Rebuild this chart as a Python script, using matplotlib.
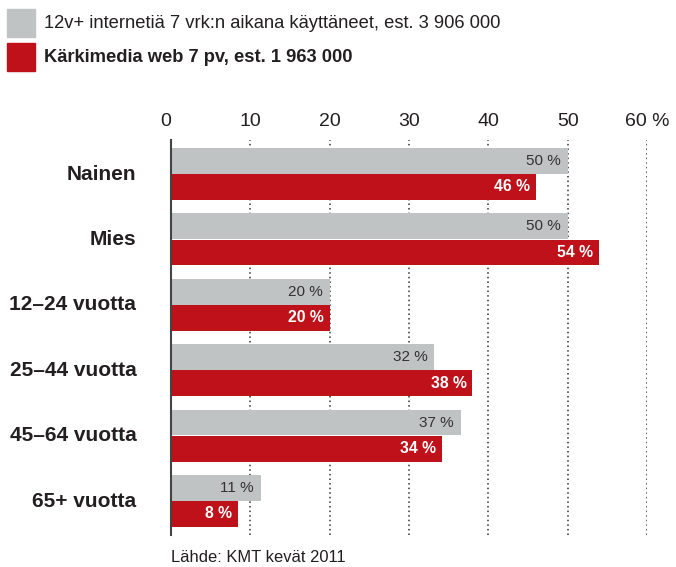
import matplotlib.pyplot as plt
from matplotlib.patches import Rectangle
import numpy as np

plt.rcParams['font.family'] = ['Liberation Sans', 'DejaVu Sans']

# data
groups = ["Nainen", "Mies", "12–24 vuotta", "25–44 vuotta", "45–64 vuotta", "65+ vuotta"]
internet_all = [50, 50, 20, 33.2, 36.5, 11.3]     # bar lengths
internet_labels = ["50 %", "50 %", "20 %", "32 %", "37 %", "11 %"]
karkimedia = [46, 54, 20, 38, 34.2, 8.4]
karkimedia_labels = ["46 %", "54 %", "20 %", "38 %", "34 %", "8 %"]
xticks = [0, 10, 20, 30, 40, 50, 60]
xticklabels = ["0", "10", "20", "30", "40", "50", "60 %"]
legend_all = "12v+ internetiä 7 vrk:n aikana käyttäneet, est. 3 906 000"
legend_km = "Kärkimedia web 7 pv, est. 1 963 000"
source = "Lähde: KMT kevät 2011"

GREY = "#c0c3c4"
RED = "#be111a"
TXT = "#231f20"

W, H = 676, 567
fig = plt.figure(figsize=(W / 100, H / 100), dpi=100)
ax = fig.add_axes([171 / W, 1 - 535 / H, 476 / W, 395 / H])

y = np.arange(len(groups))
h = 0.395
ax.barh(y - h / 2 - 0.004, internet_all, height=h, color=GREY, zorder=2)
ax.barh(y + h / 2 + 0.004, karkimedia, height=h, color=RED, zorder=2)

for i in range(len(groups)):
    ax.annotate(internet_labels[i], (internet_all[i], y[i] - h / 2), xytext=(-7, 0),
                textcoords="offset pixels", ha="right", va="center",
                fontsize=11, color="#333333", zorder=3)
    ax.annotate(karkimedia_labels[i], (karkimedia[i], y[i] + h / 2), xytext=(-6, 0),
                textcoords="offset pixels", ha="right", va="center",
                fontsize=11.3, fontweight="bold", color="white", zorder=3)

ax.set_xlim(0, 60)
ax.set_ylim(5.52, -0.52)
ax.set_yticks(y - 0.03)
ax.set_yticklabels(groups, fontsize=15, fontweight="bold", color=TXT)
ax.tick_params(axis="y", length=0, pad=25)

ax.xaxis.tick_top()
ax.set_xticks(xticks)
ax.set_xticklabels(xticklabels, fontsize=14, color=TXT)
ax.tick_params(axis="x", length=0, pad=7)
ax.get_xticklabels()[0].set_ha("right")

for x in xticks[1:]:
    ax.axvline(x, color="#333333", lw=1.1, ls=(0, (1, 2)), zorder=1)

for s in ["top", "right", "bottom"]:
    ax.spines[s].set_visible(False)
ax.spines["left"].set_color("#444444")
ax.spines["left"].set_linewidth(1.5)
ax.spines["left"].set_zorder(4)

# legend at the top
fig.patches.append(Rectangle((7 / W, 1 - 37 / H), 28 / W, 28 / H,
                             transform=fig.transFigure, color=GREY))
fig.patches.append(Rectangle((7 / W, 1 - 71 / H), 28 / W, 28 / H,
                             transform=fig.transFigure, color=RED))
fig.text(44 / W, 1 - 24 / H, legend_all, fontsize=13.2, color=TXT, va="center")
fig.text(44 / W, 1 - 58 / H, legend_km, fontsize=13.2, fontweight="bold",
         color=TXT, va="center")

fig.text(171 / W, 1 - 558 / H, source, fontsize=11.9, color=TXT, va="center")

fig.savefig("out.png", dpi=100)
